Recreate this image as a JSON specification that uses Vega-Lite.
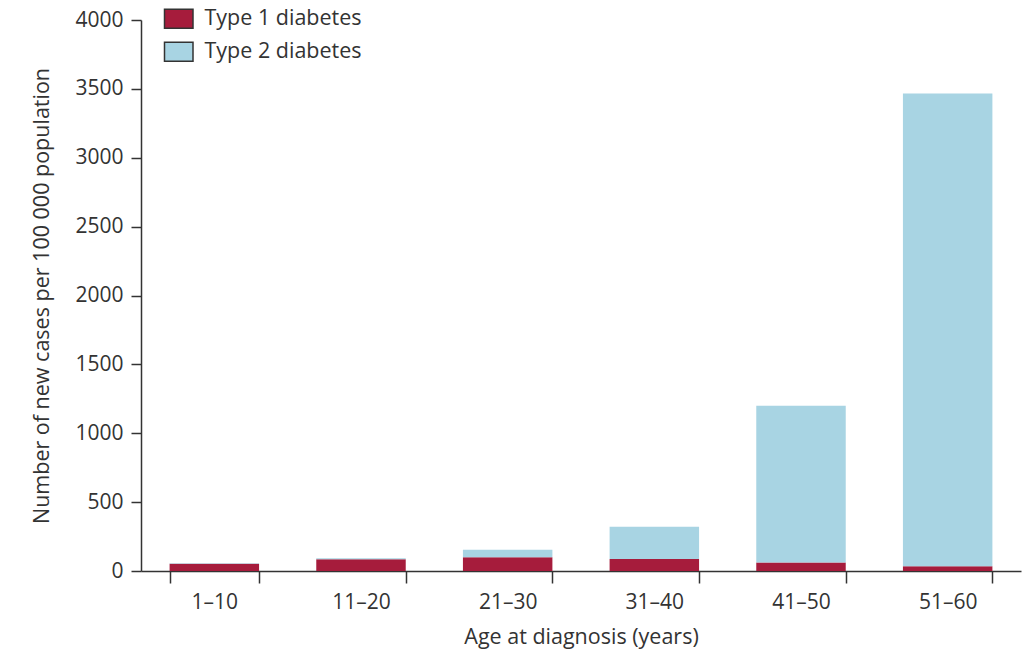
{
  "$schema": "https://vega.github.io/schema/vega-lite/v6.json",
  "width": 880,
  "height": 551,
  "autosize": {"type": "none"},
  "padding": {"left": 141, "top": 20, "right": 9, "bottom": 82},
  "background": "white",
  "data": {
    "values": [
      {"age": "1–10", "type": "Type 1 diabetes", "cases": 52},
      {"age": "1–10", "type": "Type 2 diabetes", "cases": 4},
      {"age": "11–20", "type": "Type 1 diabetes", "cases": 86},
      {"age": "11–20", "type": "Type 2 diabetes", "cases": 6},
      {"age": "21–30", "type": "Type 1 diabetes", "cases": 100},
      {"age": "21–30", "type": "Type 2 diabetes", "cases": 54},
      {"age": "31–40", "type": "Type 1 diabetes", "cases": 88},
      {"age": "31–40", "type": "Type 2 diabetes", "cases": 234},
      {"age": "41–50", "type": "Type 1 diabetes", "cases": 62},
      {"age": "41–50", "type": "Type 2 diabetes", "cases": 1137},
      {"age": "51–60", "type": "Type 1 diabetes", "cases": 35},
      {"age": "51–60", "type": "Type 2 diabetes", "cases": 3432}
    ]
  },
  "mark": {"type": "bar"},
  "encoding": {
    "x": {
      "field": "age",
      "type": "nominal",
      "sort": null,
      "scale": {"paddingInner": 0.39, "paddingOuter": 0.195},
      "axis": {
        "title": "Age at diagnosis (years)",
        "labelAngle": 0,
        "tickBand": "extent",
        "tickSize": 12,
        "labelPadding": 8,
        "titlePadding": 14
      }
    },
    "y": {
      "field": "cases",
      "type": "quantitative",
      "stack": "zero",
      "scale": {"domain": [0, 4000], "nice": false},
      "axis": {
        "title": "Number of new cases per 100 000 population",
        "values": [0, 500, 1000, 1500, 2000, 2500, 3000, 3500, 4000],
        "format": "d",
        "tickSize": 10,
        "labelPadding": 8,
        "titlePadding": 21
      }
    },
    "color": {
      "field": "type",
      "type": "nominal",
      "scale": {"domain": ["Type 1 diabetes", "Type 2 diabetes"], "range": ["#a61c3c", "#a8d4e3"]},
      "legend": {
        "title": null,
        "orient": "none",
        "legendX": 27,
        "legendY": -12,
        "padding": 0,
        "symbolType": "M-1.5,-1L1.5,-1L1.5,1L-1.5,1Z",
        "symbolSize": 361,
        "symbolStrokeColor": "#333333",
        "symbolStrokeWidth": 1.5,
        "symbolOpacity": 1,
        "labelFontSize": 21.5,
        "labelColor": "#333333",
        "labelOffset": 15,
        "rowPadding": 7
      }
    },
    "order": {"field": "type", "sort": "ascending"}
  },
  "config": {
    "font": "Open Sans",
    "view": {"stroke": null},
    "axis": {
      "grid": false,
      "domainColor": "#333333",
      "domainWidth": 1.5,
      "tickColor": "#333333",
      "tickWidth": 1.5,
      "labelFontSize": 21,
      "titleFontSize": 21.5,
      "labelColor": "#333333",
      "titleColor": "#333333",
      "titleFontWeight": "normal",
      "labelFont": "Open Sans",
      "titleFont": "Open Sans"
    }
  }
}
